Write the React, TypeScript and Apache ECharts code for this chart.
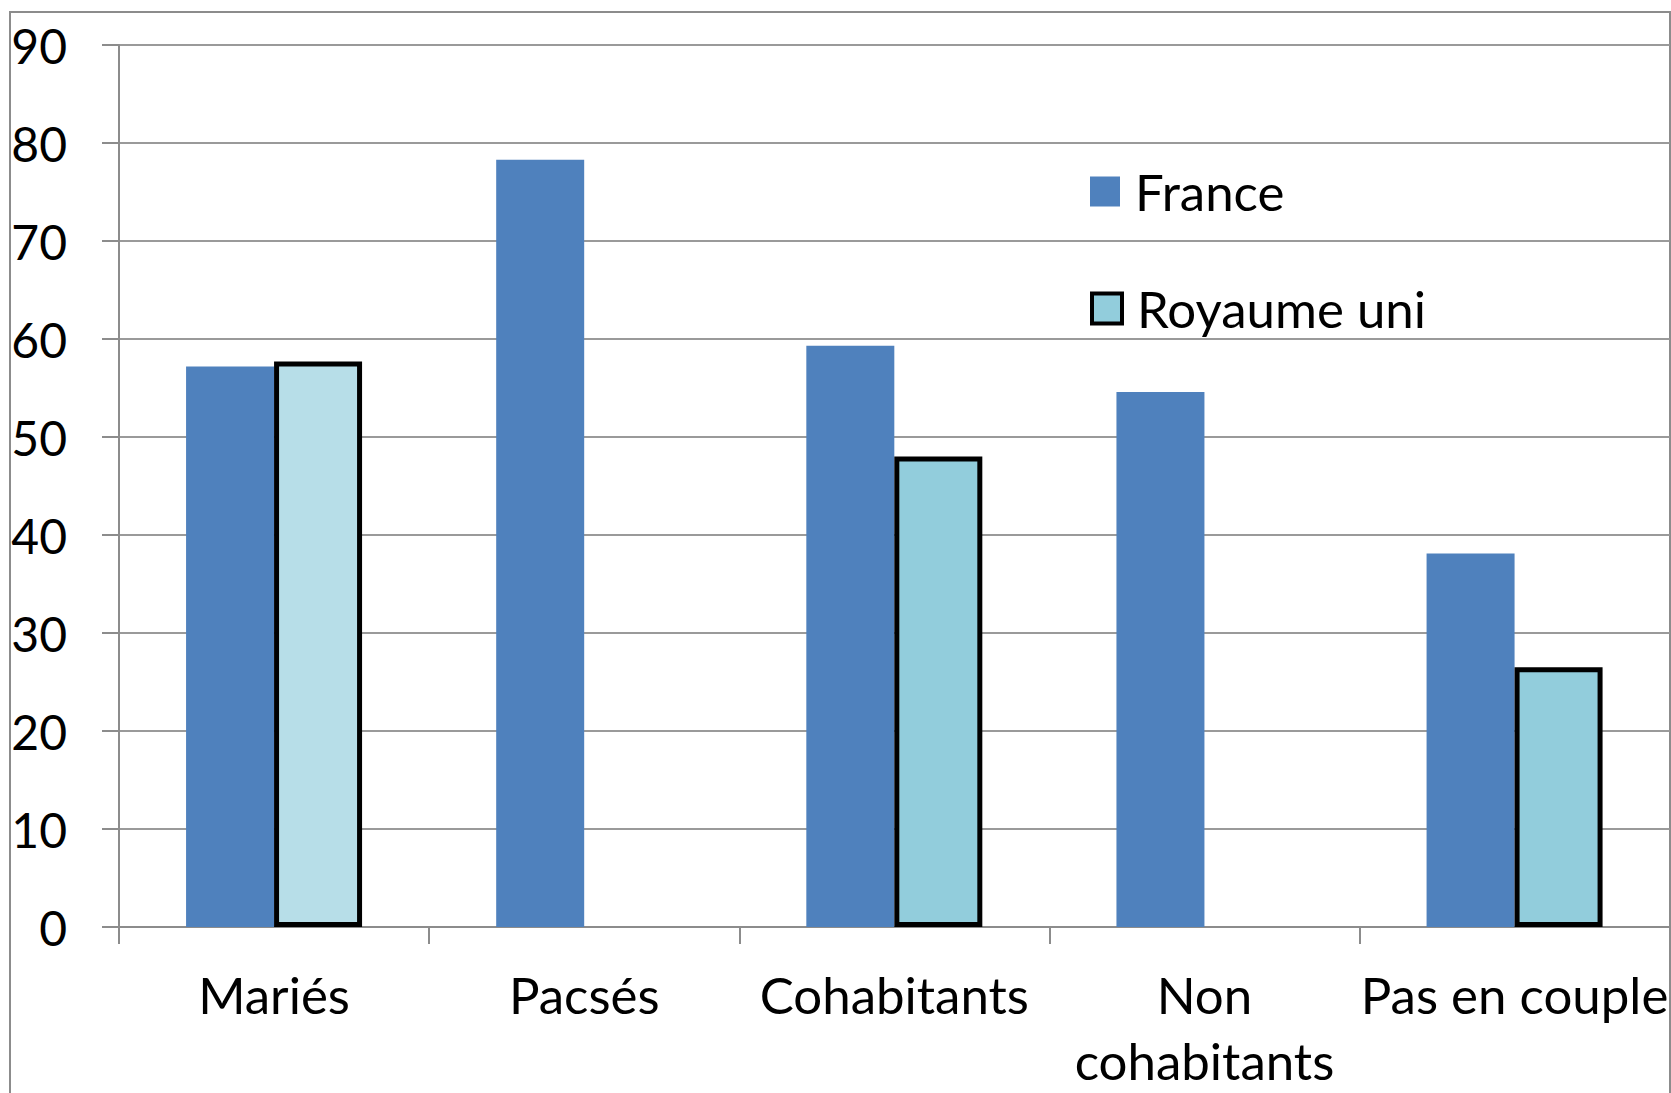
import React, { useEffect, useRef } from "react";
import * as echarts from "echarts";

const categories = ["Mariés", "Pacsés", "Cohabitants", "Non\ncohabitants", "Pas en couple"];
const franceValues = [57.2, 78.3, 59.3, 54.6, 38.1];
const ukValues: (number | null)[] = [57.7, null, 48.0, null, 26.5];
const yTicks = { min: 0, max: 90, interval: 10 };

const FONT = "Lato";

export default function App() {
  const ref = useRef<HTMLDivElement>(null);
  useEffect(() => {
    if (!ref.current) return;
    const chart = echarts.init(ref.current, null, { renderer: "svg" });
    const ukData = ukValues.map((v, i) =>
      i === 0 && v !== null
        ? { value: v, itemStyle: { color: "#B7DEE8" } }
        : v
    );
    const legendText = {
      fontSize: 51,
      color: "#000",
      fontFamily: FONT,
      padding: [0, 0, 0, 10],
      lineHeight: 30,
    };
    chart.setOption({
      animation: false,
      backgroundColor: "#ffffff",
      textStyle: { fontFamily: FONT },
      graphic: [
        {
          type: "rect",
          z: -10,
          shape: { x: 10, y: 12, width: 1660, height: 1200 },
          style: { fill: "none", stroke: "#8c8c8c", lineWidth: 2 },
        },
      ],
      grid: { left: 119, top: 45, right: -2, bottom: 165, containLabel: false },
      legend: [
        {
          data: ["France"],
          left: 1090,
          top: 166,
          padding: 0,
          itemWidth: 30,
          itemHeight: 30,
          icon: "rect",
          textStyle: legendText,
        },
        {
          data: ["Royaume uni"],
          left: 1090,
          top: 283,
          padding: 0,
          itemWidth: 30,
          itemHeight: 30,
          icon: "rect",
          itemStyle: { borderColor: "#000", borderWidth: 4 },
          textStyle: legendText,
        },
      ],
      xAxis: {
        type: "category",
        data: categories,
        axisLine: { show: true, lineStyle: { color: "#8c8c8c", width: 2 } },
        axisTick: { show: true, length: 17, lineStyle: { color: "#8c8c8c", width: 2 } },
        axisLabel: {
          fontSize: 51,
          color: "#000",
          fontFamily: FONT,
          margin: 34,
          lineHeight: 66,
          interval: 0,
        },
      },
      yAxis: {
        type: "value",
        min: yTicks.min,
        max: yTicks.max,
        interval: yTicks.interval,
        axisLine: { show: true, lineStyle: { color: "#8c8c8c", width: 2 } },
        axisTick: { show: true, length: 17, lineStyle: { color: "#8c8c8c", width: 2 } },
        splitLine: { show: true, lineStyle: { color: "#9a9a9a", width: 2 } },
        axisLabel: { fontSize: 48, color: "#000", fontFamily: FONT, margin: 52 },
      },
      series: [
        {
          name: "France",
          type: "bar",
          data: franceValues,
          barWidth: 88,
          barGap: "0%",
          itemStyle: { color: "#4F81BD" },
        },
        {
          name: "Royaume uni",
          type: "bar",
          data: ukData,
          barWidth: 88,
          barGap: "0%",
          itemStyle: { color: "#92CDDC", borderColor: "#000", borderWidth: 5 },
        },
      ],
    });
    return () => chart.dispose();
  }, []);
  return (
    <div
      ref={ref}
      style={{ position: "fixed", left: 0, top: 0, width: 1671, height: 1093 }}
    />
  );
}
